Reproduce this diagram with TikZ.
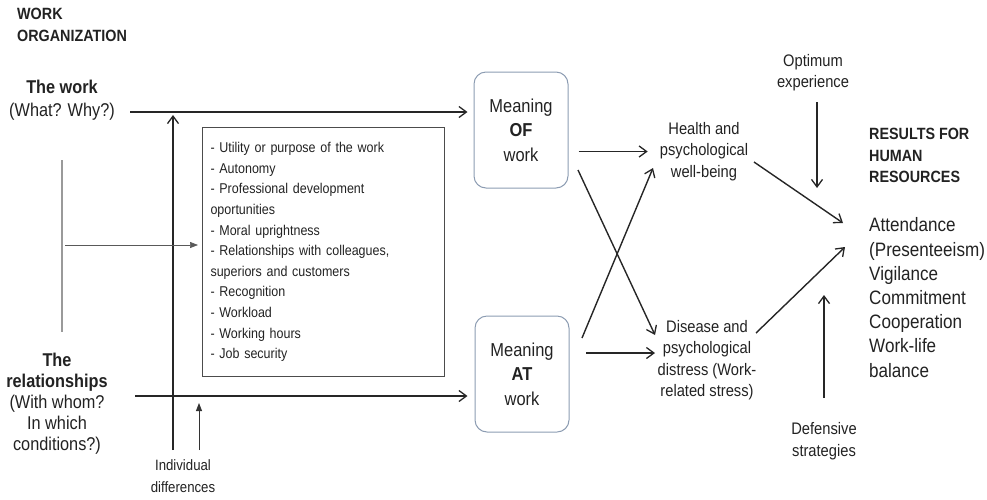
\documentclass[tikz,border=0pt]{standalone}
\usepackage{fontspec}
\setmainfont{Liberation Sans}[FakeStretch=0.88]
\usetikzlibrary{arrows.meta}
\definecolor{txtgray}{HTML}{222222}
\definecolor{boxblue}{HTML}{8C9CB2}
\definecolor{linegray}{HTML}{9A9A9A}

\begin{document}
\begin{tikzpicture}[x=1pt, y=-1pt,
    every node/.style={text=txtgray, inner sep=0pt},
    arr/.style={draw=black!85, line width=1.4pt, -{Straight Barb[length=7.5pt,width=11pt,line width=1.3pt]}},
    farr/.style={draw=black!80, line width=0.9pt, -{Triangle[length=8pt,width=6pt]}},
    meaning/.style={draw=boxblue, line width=1pt, rounded corners=12pt, minimum width=94pt, minimum height=116pt, align=center, font=\fontsize{18.7}{24.5}\selectfont},
    small/.style={align=center, font=\fontsize{16.7}{21.5}\selectfont}]
\useasboundingbox (0,0) rectangle (987,499);

% left side
\node[anchor=west, align=left, font=\bfseries\fontsize{16.3}{22}\selectfont] (org) at (17,25) {WORK\\ORGANIZATION};
\node[align=center, font=\fontsize{18.5}{23}\selectfont] (work) at (62,100) {\textbf{The work}\\(What? Why?)};
\node[align=center, font=\fontsize{18.5}{21}\selectfont] (rel) at (57,404) {\textbf{The}\\\textbf{relationships}\\(With whom?\\In which\\conditions?)};
\node[draw=black!70, line width=1pt, anchor=north west, text width=226pt, inner xsep=8pt, minimum height=249pt, align=left, font=\fontsize{14.2}{20.6}\selectfont] (list) at (202,127)
  {- Utility or purpose of the work\\- Autonomy\\- Professional development\\oportunities\\- Moral uprightness\\- Relationships with colleagues,\\superiors and customers\\- Recognition\\- Workload\\- Working hours\\- Job security};
\node[align=center, font=\fontsize{15}{22}\selectfont] (indiv) at (183,476) {Individual\\differences};

% meaning boxes
\node[meaning] (of) at (521,130) {Meaning\\\textbf{OF}\\work};
\node[meaning] (at) at (522,374) {Meaning\\\textbf{AT}\\work};

% outcomes
\node[small] (health) at (704,151.5) {Health and\\psychological\\well-being};
\node[small] (disease) at (707,360) {Disease and\\psychological\\distress (Work-\\related stress)};
\node[small] (optimum) at (813,72.5) {Optimum\\experience};
\node[small] (defensive) at (824,441) {Defensive\\strategies};
\node[anchor=west, align=left, font=\bfseries\fontsize{16.3}{21.5}\selectfont] (reshead) at (869,155.5) {RESULTS FOR\\HUMAN\\RESOURCES};
\node[anchor=west, align=left, font=\fontsize{19.4}{24.2}\selectfont] (results) at (869,297.5) {Attendance\\(Presenteeism)\\Vigilance\\Commitment\\Cooperation\\Work-life\\balance};

\coordinate (wline) at (130,112);
\coordinate (rline) at (135,396);
\coordinate (vbot) at (173,450);
\coordinate (sbot) at (199,450);
\coordinate (gtop) at (62,160);
\coordinate (gbot) at (62,332);
\coordinate (garr) at (65,245);
\coordinate (ofout) at (578,170);
\coordinate (atout) at (582,338);
\coordinate (atright) at (586,353);
\coordinate (htip) at (653,168);
\coordinate (dtip) at (655,335);
\coordinate (hout) at (754,162);
\coordinate (dout) at (756,333);
\coordinate (rtop) at (843,223);
\coordinate (rbot) at (845,247);
\coordinate (optend) at (817,188);
\coordinate (optstart) at (817,102);
\coordinate (defstart) at (824,398);
\coordinate (defend) at (824,295);

\draw[arr, shorten >=6pt] (wline) -- (wline -| of.west);
\draw[arr, shorten >=7pt] (rline) -- (rline -| at.west);
\draw[arr, shorten >=3pt] (vbot) -- (vbot |- wline);
\draw[farr, shorten >=7pt] (sbot) -- (sbot |- rline);
\draw[draw=linegray, line width=1.3pt] (gtop) -- (gbot);
\draw[farr, draw=black!65, line width=0.7pt, shorten >=4pt] (garr) -- (garr -| list.west);

\draw[arr, shorten <=10pt, shorten >=12pt] (of.east |- health) -- (health.west);
\draw[arr] (ofout) -- (dtip);
\draw[arr] (atout) -- (htip);
\draw[arr] (atright) -- (atright -| dtip);
\draw[arr] (hout) -- (rtop);
\draw[arr] (dout) -- (rbot);
\draw[arr] (optstart) -- (optend);
\draw[arr] (defstart) -- (defend);
\end{tikzpicture}
\end{document}
